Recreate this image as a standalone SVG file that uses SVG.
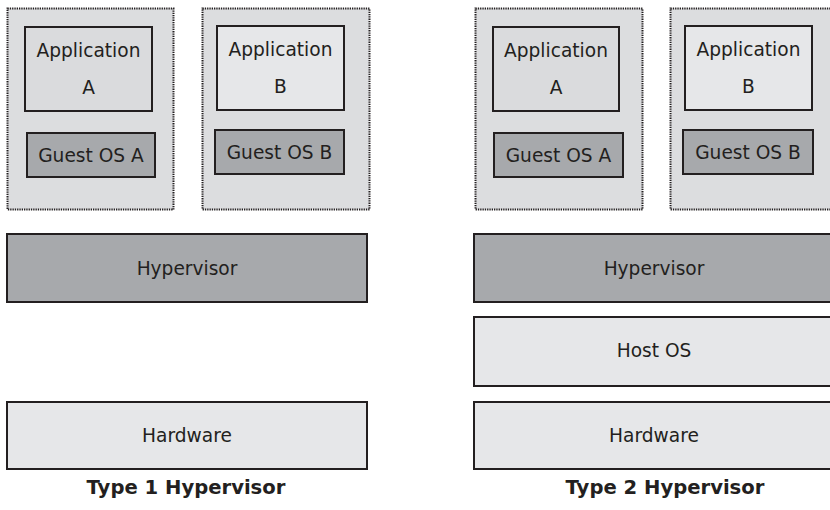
<svg xmlns="http://www.w3.org/2000/svg" width="830" height="510" viewBox="0 0 830 510">
<style>
text{font-family:"DejaVu Sans","Open Sans",sans-serif;font-size:18.6px;fill:#231f20;text-anchor:middle}
.title{font-weight:bold;font-size:19.6px}
.vm{fill:#dcdddf;stroke:#231f20;stroke-width:2;stroke-dasharray:1.3 1}
.appA{fill:#dadbdd;stroke:#231f20;stroke-width:2}
.appB{fill:#e6e7e9;stroke:#231f20;stroke-width:2}
.guest{fill:#a7a9ac;stroke:#231f20;stroke-width:2}
.hyp{fill:#a7a9ac;stroke:#231f20;stroke-width:2}
.light{fill:#e6e7e9;stroke:#231f20;stroke-width:2}
</style>
<rect width="830" height="510" fill="#ffffff"/>
<!-- Type 1 -->
<g id="t1-vmA">
<rect class="vm" x="7.5" y="8.5" width="166" height="201"/>
<g id="t1-appA"><rect class="appA" x="25" y="27" width="127" height="84"/><text x="88.5" y="57">Application</text><text x="88.5" y="94">A</text></g>
<g id="t1-guestA"><rect class="guest" x="27" y="133" width="128" height="44"/><text x="91" y="162">Guest OS A</text></g>
</g>
<g id="t1-vmB">
<rect class="vm" x="202.5" y="8.5" width="167" height="201"/>
<g id="t1-appB"><rect class="appB" x="217" y="26" width="127" height="84"/><text x="280.5" y="56">Application</text><text x="280.5" y="93">B</text></g>
<g id="t1-guestB"><rect class="guest" x="215" y="130" width="129" height="44"/><text x="279.5" y="159">Guest OS B</text></g>
</g>
<g id="t1-hypervisor"><rect class="hyp" x="7" y="234" width="360" height="68"/><text x="187" y="275">Hypervisor</text></g>
<g id="t1-hardware"><rect class="light" x="7" y="402" width="360" height="67"/><text x="187" y="442">Hardware</text></g>
<g id="t1-title"><text class="title" x="186" y="494">Type 1 Hypervisor</text></g>
<!-- Type 2 -->
<g id="t2-vmA">
<rect class="vm" x="475.5" y="8.5" width="167" height="201"/>
<g id="t2-appA"><rect class="appA" x="493" y="27" width="126" height="84"/><text x="556" y="57">Application</text><text x="556" y="94">A</text></g>
<g id="t2-guestA"><rect class="guest" x="494" y="133" width="129" height="44"/><text x="558.5" y="162">Guest OS A</text></g>
</g>
<g id="t2-vmB">
<rect class="vm" x="670.5" y="8.5" width="167" height="201"/>
<g id="t2-appB"><rect class="appB" x="685" y="26" width="127" height="84"/><text x="748.5" y="56">Application</text><text x="748.5" y="93">B</text></g>
<g id="t2-guestB"><rect class="guest" x="683" y="130" width="130" height="44"/><text x="748" y="159">Guest OS B</text></g>
</g>
<g id="t2-hypervisor"><rect class="hyp" x="474" y="234" width="360" height="68"/><text x="654" y="275">Hypervisor</text></g>
<g id="t2-hostos"><rect class="light" x="474" y="317" width="360" height="69"/><text x="654" y="357">Host OS</text></g>
<g id="t2-hardware"><rect class="light" x="474" y="402" width="360" height="67"/><text x="654" y="442">Hardware</text></g>
<g id="t2-title"><text class="title" x="665" y="494">Type 2 Hypervisor</text></g>
</svg>
